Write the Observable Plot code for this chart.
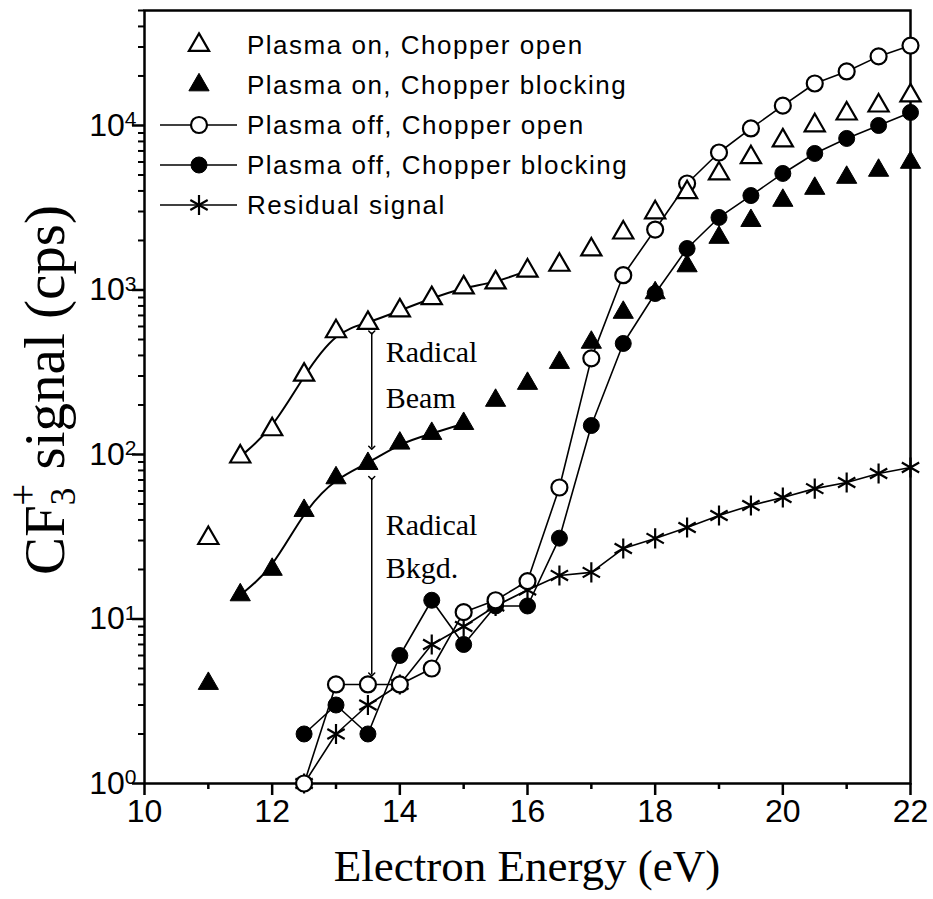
<!DOCTYPE html>
<html><head><meta charset="utf-8">
<script src="https://cdn.jsdelivr.net/npm/d3@7"></script>
<script src="https://cdn.jsdelivr.net/npm/@observablehq/plot@0.6"></script>
<style>body{margin:0;background:#fff}</style>
</head><body><div id="chart"></div>
<script>
// ---- data ----
const energyOn = [11, 11.5, 12, 12.5, 13, 13.5, 14, 14.5, 15, 15.5, 16, 16.5, 17, 17.5, 18, 18.5, 19, 19.5, 20, 20.5, 21, 21.5, 22];
const plasmaOnOpen = [31, 97, 142, 305, 560, 630, 750, 890, 1035, 1110, 1310, 1420, 1760, 2230, 2960, 3920, 5100, 6400, 8100, 10000, 11800, 13200, 15200];
const plasmaOnBlocking = [4.05, 14, 20, 45.6, 72, 88, 117, 134, 154, 213, 270, 362, 480, 730, 960, 1400, 2085, 2640, 3500, 4140, 4830, 5330, 5960];
const energyOff = [12.5, 13, 13.5, 14, 14.5, 15, 15.5, 16, 16.5, 17, 17.5, 18, 18.5, 19, 19.5, 20, 20.5, 21, 21.5, 22];
const plasmaOffOpen = [1, 4, 4, 4, 5, 11, 13, 17, 63, 384, 1230, 2330, 4440, 6850, 9590, 13200, 18000, 21300, 26300, 30600];
const plasmaOffBlocking = [2, 3, 2, 6, 13, 7, 12, 12, 31, 150, 473, 952, 1787, 2760, 3750, 5110, 6760, 8340, 10000, 12000];
const residualSignal = [1, 2, 3, 4, 7, 9, 12, 15, 18.4, 19.2, 26.8, 30.9, 36, 42.6, 49, 54.8, 62, 67.6, 76.6, 83.4];
const fitOpenRange = [11.5, 16];
const fitBlockingRange = [11.5, 15];
const xTicks = [10, 12, 14, 16, 18, 20, 22];
const xMinorTicks = [11, 13, 15, 17, 19, 21];
const yTicks = [1, 10, 100, 1000, 10000];
const yExponents = ["0", "1", "2", "3", "4"];
const legendLabels = ["Plasma on, Chopper open", "Plasma on, Chopper blocking", "Plasma off, Chopper open", "Plasma off, Chopper blocking", "Residual signal"];
const arrowEnergy = [13.56];
const beamArrow = [552, 110];
const bkgdArrow = [72, 4.6];
const annotationText = ["Radical", "Beam", "Radical", "Bkgd."];
const annotationSignal = [417, 219, 37, 20.3];
const annotationEnergy = 13.78;
const xTitle = "Electron Energy (eV)";

// ---- tables ----
const onOpen = energyOn.map((e, i) => ({e, v: plasmaOnOpen[i]}));
const onBlock = energyOn.map((e, i) => ({e, v: plasmaOnBlocking[i]}));
const offOpen = energyOff.map((e, i) => ({e, v: plasmaOffOpen[i]}));
const offBlock = energyOff.map((e, i) => ({e, v: plasmaOffBlocking[i]}));
const resid = energyOff.map((e, i) => ({e, v: residualSignal[i]}));
const fitOpen = onOpen.filter(d => d.e >= fitOpenRange[0] && d.e <= fitOpenRange[1]);
const fitBlock = onBlock.filter(d => d.e >= fitBlockingRange[0] && d.e <= fitBlockingRange[1]);
const yMinor = yTicks.flatMap(d => [2,3,4,5,6,7,8,9].map(m => m * d)).filter(v => v <= 5e4);
const arrows = [
  {e: arrowEnergy[0], v1: beamArrow[0], v2: beamArrow[1]},
  {e: arrowEnergy[0], v1: bkgdArrow[0], v2: bkgdArrow[1]}
];
const annotations = annotationText.map((t, i) => ({t, v: annotationSignal[i], e: annotationEnergy}));

const sans = "'Liberation Sans', Arial, Helvetica, sans-serif";
const serif = "'Liberation Serif', 'Times New Roman', Times, serif";
const R_TRI = 7.5, R_CIR = 8, R_AST = 9.5;

const plot = Plot.plot({
  width: 933, height: 899,
  marginLeft: 144, marginRight: 23, marginTop: 10, marginBottom: 116,
  style: {fontFamily: sans, color: "#000", background: "#fff", overflow: "visible"},
  x: {domain: [10, 22]},
  y: {type: "log", domain: [1, 5e4]},
  marks: [
    Plot.axisX({ticks: xTicks, tickSize: 12, tickPadding: 4, tickFormat: d => "x" + d, label: null, strokeWidth: 2.5}),
    Plot.axisX({ticks: xMinorTicks, tickSize: 6, tickFormat: () => "", label: null, strokeWidth: 2.5}),
    Plot.axisY({ticks: yTicks, tickSize: 12, tickPadding: -4, tickFormat: d => "10^" + yExponents[yTicks.indexOf(d)], label: null, strokeWidth: 2.5}),
    Plot.axisY({ticks: yMinor, tickSize: 6, tickFormat: () => "", label: null, strokeWidth: 2}),
    Plot.frame({stroke: "black", strokeWidth: 2.5}),
    // fit curves
    Plot.line(fitOpen, {x: "e", y: "v", curve: "basis", stroke: "black", strokeWidth: 2}),
    Plot.line(fitBlock, {x: "e", y: "v", curve: "basis", stroke: "black", strokeWidth: 2}),
    // connected series
    Plot.line(resid, {x: "e", y: "v", stroke: "black", strokeWidth: 1.6}),
    Plot.line(offBlock, {x: "e", y: "v", stroke: "black", strokeWidth: 1.6}),
    Plot.line(offOpen, {x: "e", y: "v", stroke: "black", strokeWidth: 1.6}),
    // arrows
    Plot.link(arrows, {x1: "e", x2: "e", y1: "v1", y2: "v2", stroke: "black", strokeWidth: 1.5, markerStart: "arrow", markerEnd: "arrow"}),
    // markers
    Plot.dot(resid, {x: "e", y: "v", symbol: "asterisk", r: R_AST, stroke: "black", strokeWidth: 2.2}),
    Plot.dot(offBlock, {x: "e", y: "v", symbol: "circle", r: R_CIR, fill: "black", stroke: "black", strokeWidth: 1}),
    Plot.dot(offOpen, {x: "e", y: "v", symbol: "circle", r: R_CIR, fill: "white", stroke: "black", strokeWidth: 2.2}),
    Plot.dot(onBlock, {x: "e", y: "v", symbol: "triangle", r: R_TRI, fill: "black", stroke: "black", strokeWidth: 1}),
    Plot.dot(onOpen, {x: "e", y: "v", symbol: "triangle", r: R_TRI, fill: "white", stroke: "black", strokeWidth: 2.2}),
    // annotations
    Plot.text(annotations, {x: "e", y: "v", text: "t", textAnchor: "start", fontFamily: serif, fontSize: 30})
  ]
});
document.getElementById("chart").appendChild(plot);

const svg = d3.select(plot);

// style tick labels: x labels (prefixed "x") and y labels ("10^n" with superscript)
svg.selectAll("text").each(function() {
  const node = d3.select(this);
  const tx = node.text();
  if (/^x\d+$/.test(tx)) {
    node.text(tx.slice(1));
    node.attr("font-size", 32).style("font-size", "32px").attr("font-family", sans);
  } else if (/^10\^\d$/.test(tx)) {
    const exp = tx.split("^")[1];
    node.text("10");
    node.attr("font-size", 32).style("font-size", "32px").attr("font-family", sans);
    node.append("tspan").attr("dy", "-0.45em").style("font-size", "21px").text(exp);
  }
});

// axis titles
svg.append("text")
  .attr("x", 527).attr("y", 881)
  .attr("text-anchor", "middle")
  .attr("font-family", serif).style("font-size", "45px")
  .attr("fill", "black")
  .text(xTitle);

const yt = svg.append("text")
  .attr("transform", "translate(64,390) rotate(-90)")
  .attr("text-anchor", "middle")
  .attr("font-family", serif).style("font-size", "57px")
  .attr("fill", "black");
yt.append("tspan").text("CF");
yt.append("tspan").style("font-size", "35px").attr("dy", 11).text("3");
yt.append("tspan").style("font-size", "39px").attr("dx", -18).attr("dy", -39).text("+");
yt.append("tspan").attr("dy", 28).text(" signal (cps)");

// legend
const legendSymbols = [
  {sym: d3.symbolTriangle, r: R_TRI, fill: "white", sw: 2.2, line: false},
  {sym: d3.symbolTriangle, r: R_TRI, fill: "black", sw: 1, line: false},
  {sym: d3.symbolCircle, r: R_CIR, fill: "white", sw: 2.2, line: true},
  {sym: d3.symbolCircle, r: R_CIR, fill: "black", sw: 1, line: true},
  {sym: d3.symbolAsterisk, r: R_AST, fill: "none", sw: 2.2, line: true}
];
const lg = svg.append("g").attr("text-anchor", "start");
legendLabels.forEach((label, i) => {
  const y = 45 + i * 40;
  const s = legendSymbols[i];
  if (s.line) lg.append("line").attr("x1", 160).attr("x2", 237).attr("y1", y).attr("y2", y).attr("stroke", "black").attr("stroke-width", 1.6);
  lg.append("path")
    .attr("d", d3.symbol(s.sym, Math.PI * s.r * s.r)())
    .attr("transform", `translate(199,${y})`)
    .attr("fill", s.fill).attr("stroke", "black").attr("stroke-width", s.sw);
  lg.append("text")
    .attr("x", 247).attr("y", y).attr("dy", "0.36em")
    .attr("text-anchor", "start")
    .attr("font-family", sans).style("font-size", "26px").attr("letter-spacing", "1.5px")
    .attr("fill", "black")
    .text(label);
});
</script>
</body></html>
